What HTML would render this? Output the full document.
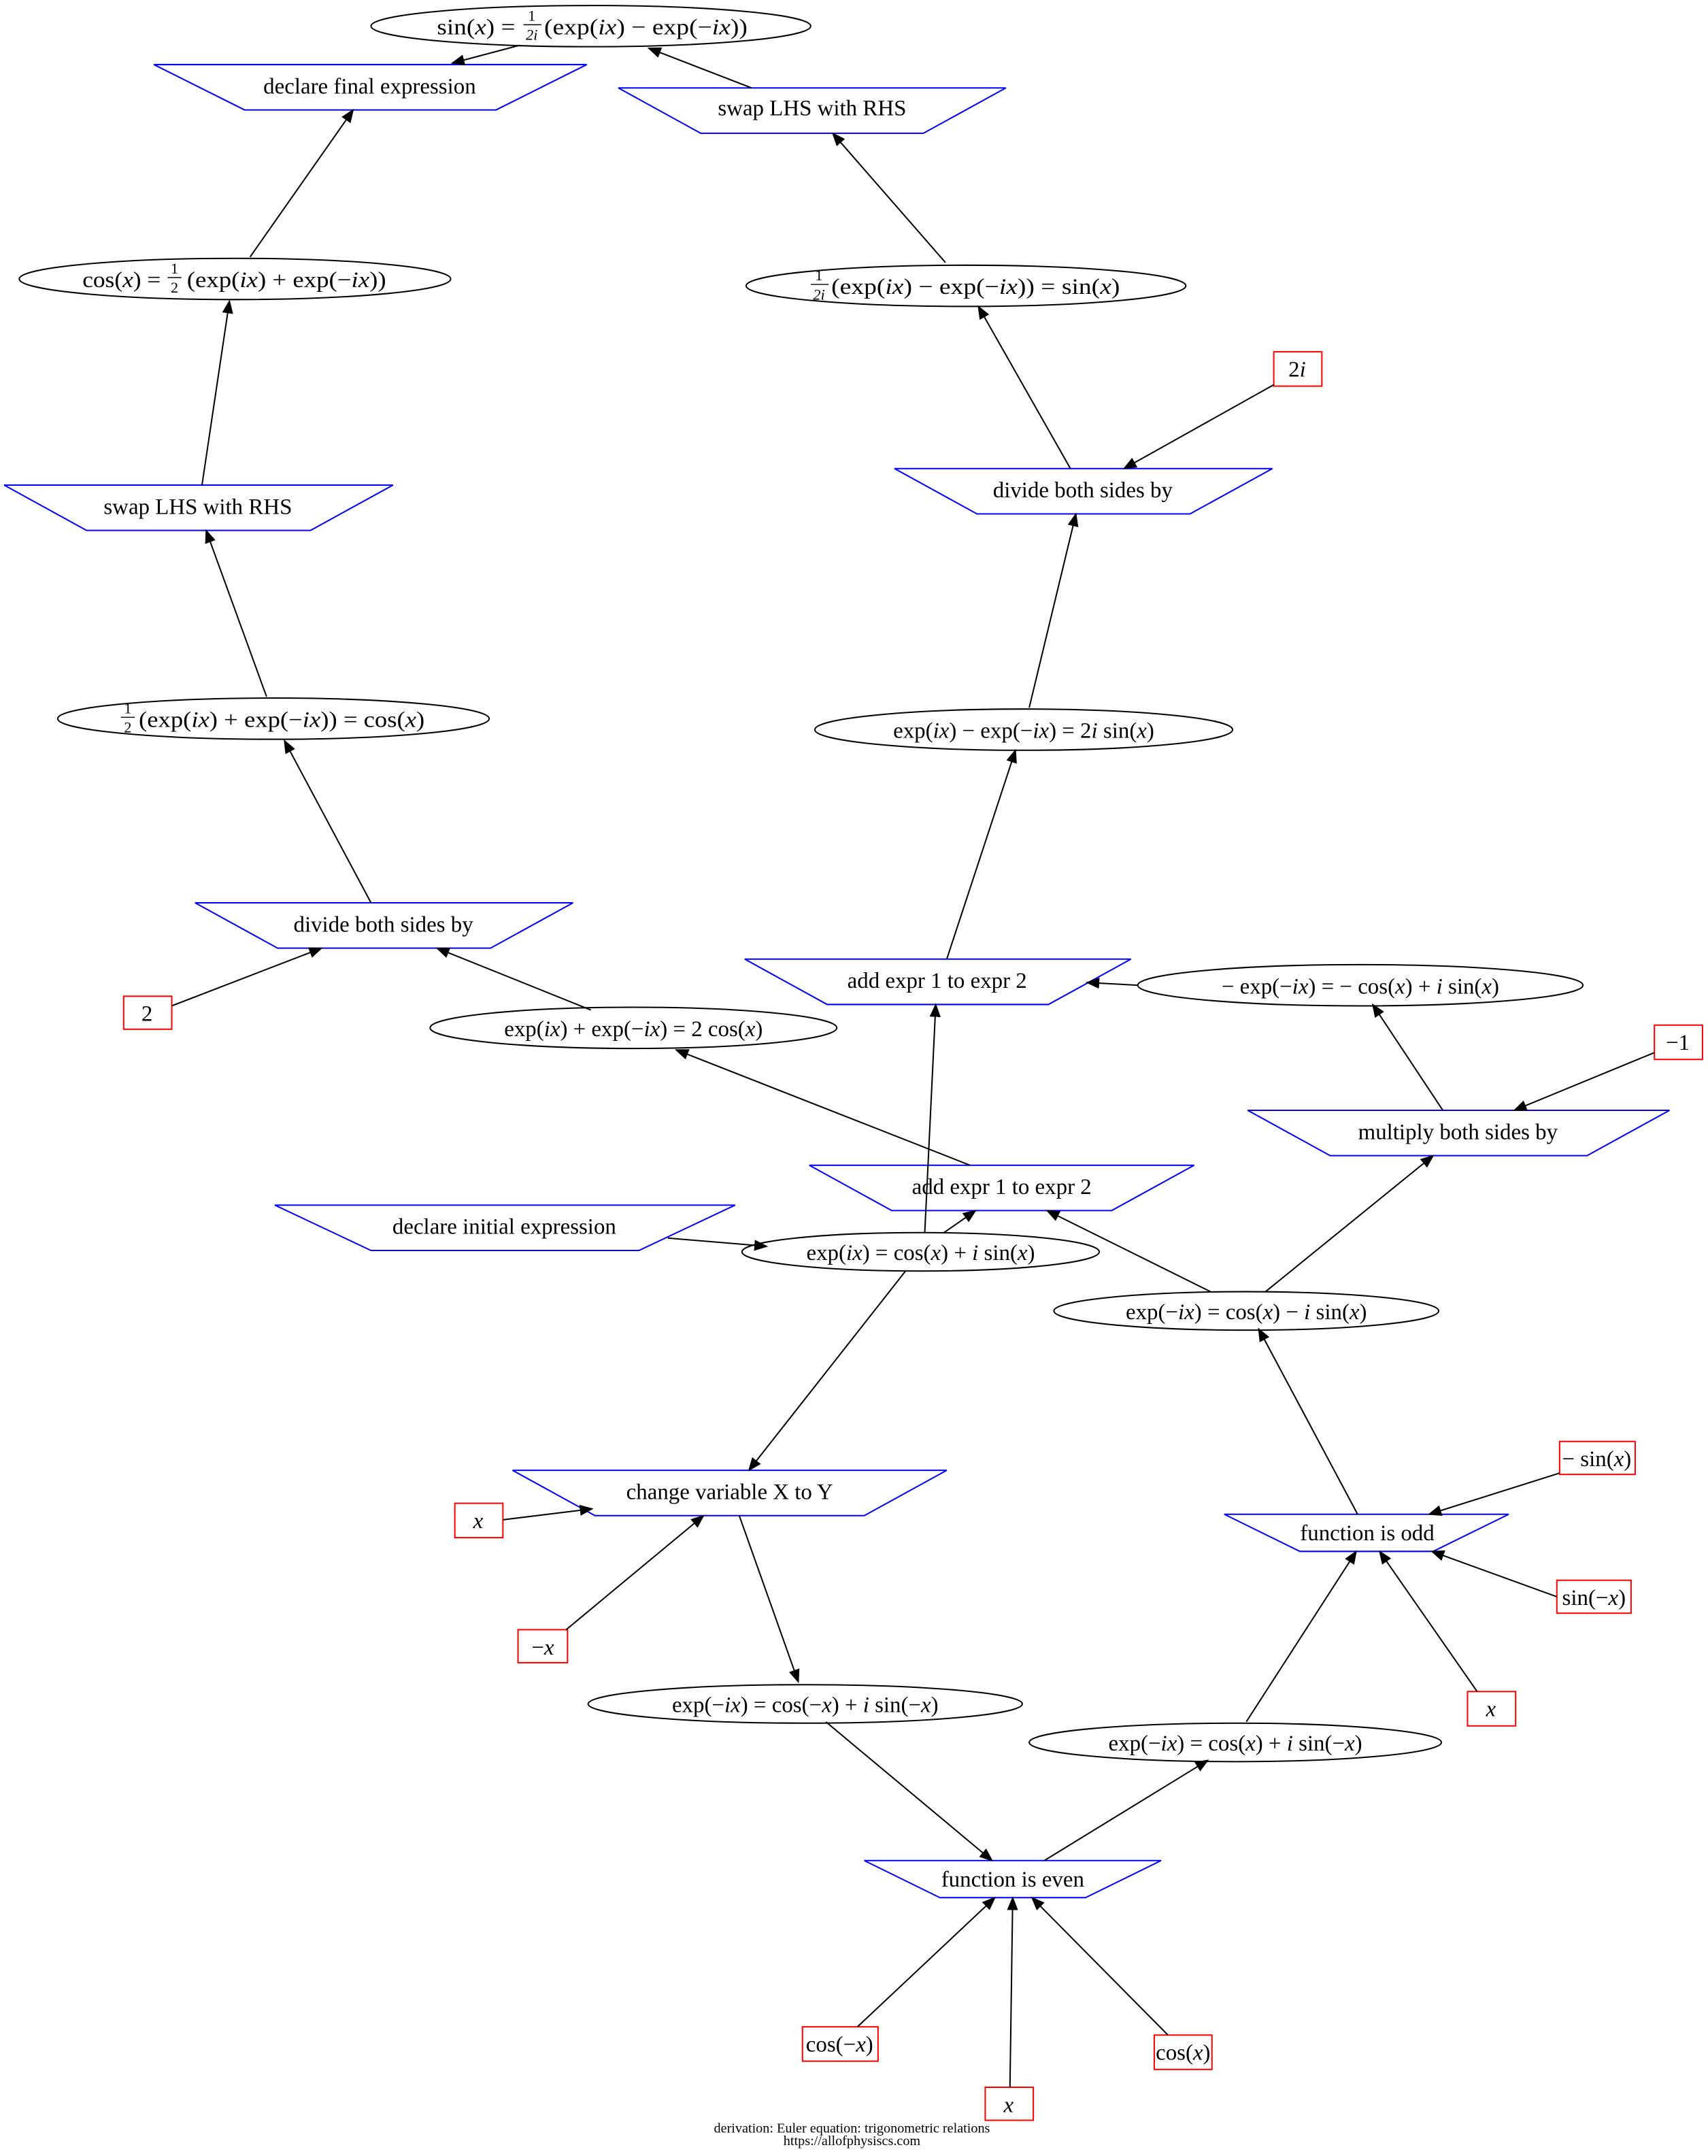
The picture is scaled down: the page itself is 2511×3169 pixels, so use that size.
<!DOCTYPE html>
<html><head><meta charset="utf-8"><style>
html,body{margin:0;padding:0;background:#fff;}
svg{display:block;}
text{font-family:"Liberation Serif",serif;font-size:16.3px;fill:#000;}
.i{font-style:italic;}
.f{font-size:11px;}
.foot{font-size:10px;}
</style></head><body>
<svg width="2511" height="3169" viewBox="0 0 1243 1569" preserveAspectRatio="none" xmlns="http://www.w3.org/2000/svg">
<defs><marker id="a" markerWidth="10" markerHeight="8" refX="9" refY="4" orient="auto" markerUnits="userSpaceOnUse"><path d="M0,0 L10,4 L0,8 z" fill="#000"/></marker></defs>
<rect width="1243" height="1569" fill="#fff"/>
<g stroke="#000" stroke-width="1" fill="none">
<ellipse cx="430" cy="19" rx="160" ry="15"/>
<ellipse cx="171" cy="203" rx="157" ry="15"/>
<ellipse cx="703" cy="208" rx="160" ry="15"/>
<ellipse cx="199" cy="523" rx="157" ry="15"/>
<ellipse cx="745" cy="531" rx="152" ry="15"/>
<ellipse cx="461" cy="748" rx="148" ry="15"/>
<ellipse cx="990" cy="717" rx="162" ry="15"/>
<ellipse cx="670" cy="911" rx="130" ry="14"/>
<ellipse cx="907" cy="954" rx="140" ry="14"/>
<ellipse cx="586" cy="1240" rx="158" ry="14"/>
<ellipse cx="899" cy="1268" rx="150" ry="14"/>
</g>
<g stroke="#0000ff" stroke-width="1" fill="none">
<polygon points="112,47 427,47 361,80 178,80"/>
<polygon points="450,64 732,64 672,97 510,97"/>
<polygon points="3,353 286,353 226,386 63,386"/>
<polygon points="651,341 926,341 866,374 711,374"/>
<polygon points="142,657 417,657 357,690 202,690"/>
<polygon points="542,698 823,698 763,731 602,731"/>
<polygon points="908,808 1215,808 1155,841 968,841"/>
<polygon points="589,848 869,848 809,881 649,881"/>
<polygon points="200,877 535,877 465,910 270,910"/>
<polygon points="373,1070 689,1070 629,1103 433,1103"/>
<polygon points="891,1102 1098,1102 1043,1129 946,1129"/>
<polygon points="629,1354 845,1354 790,1381 684,1381"/>
</g>
<g stroke="#ff0000" stroke-width="1" fill="none">
<rect x="927" y="256" width="35" height="25"/>
<rect x="90" y="725" width="35" height="24"/>
<rect x="1204" y="746" width="35" height="25"/>
<rect x="331" y="1094" width="35" height="25"/>
<rect x="377" y="1186" width="36" height="24"/>
<rect x="1135" y="1049" width="55" height="24"/>
<rect x="1133" y="1150" width="54" height="24"/>
<rect x="1068" y="1231" width="35" height="25"/>
<rect x="584" y="1475" width="55" height="25"/>
<rect x="840" y="1481" width="42" height="25"/>
<rect x="717" y="1519" width="35" height="24"/>
</g>
<g stroke="#000" stroke-width="1" marker-end="url(#a)">
<line x1="378" y1="33" x2="329" y2="46"/>
<line x1="547" y1="64" x2="472" y2="35"/>
<line x1="182" y1="187" x2="257" y2="80"/>
<line x1="688" y1="191" x2="606" y2="97"/>
<line x1="147" y1="353" x2="167" y2="219"/>
<line x1="194" y1="507" x2="150" y2="386"/>
<line x1="779" y1="341" x2="712" y2="223"/>
<line x1="927" y1="280" x2="818" y2="341"/>
<line x1="749" y1="515" x2="783" y2="374"/>
<line x1="270" y1="657" x2="207" y2="539"/>
<line x1="125" y1="732" x2="234" y2="690"/>
<line x1="430" y1="735" x2="318" y2="690"/>
<line x1="689" y1="698" x2="739" y2="546"/>
<line x1="828" y1="717" x2="791" y2="715"/>
<line x1="673" y1="897" x2="681" y2="731"/>
<line x1="1050" y1="808" x2="999" y2="731"/>
<line x1="1204" y1="766" x2="1102" y2="808"/>
<line x1="706" y1="848" x2="492" y2="764"/>
<line x1="687" y1="897" x2="710" y2="881"/>
<line x1="881" y1="940" x2="762" y2="881"/>
<line x1="921" y1="940" x2="1043" y2="841"/>
<line x1="486" y1="901" x2="558" y2="907"/>
<line x1="659" y1="925" x2="545" y2="1070"/>
<line x1="366" y1="1106" x2="431" y2="1098"/>
<line x1="412" y1="1186" x2="512" y2="1103"/>
<line x1="538" y1="1103" x2="581" y2="1224"/>
<line x1="988" y1="1102" x2="916" y2="967"/>
<line x1="1135" y1="1072" x2="1040" y2="1102"/>
<line x1="1133" y1="1162" x2="1042" y2="1129"/>
<line x1="1075" y1="1231" x2="1004" y2="1129"/>
<line x1="601" y1="1253" x2="722" y2="1354"/>
<line x1="760" y1="1354" x2="879" y2="1281"/>
<line x1="907" y1="1253" x2="987" y2="1129"/>
<line x1="624" y1="1475" x2="724" y2="1381"/>
<line x1="735" y1="1519" x2="737" y2="1381"/>
<line x1="850" y1="1481" x2="751" y2="1381"/>
</g>
<text x="318" y="25" textLength="57" lengthAdjust="spacingAndGlyphs">sin(<tspan class="i">x</tspan>) =</text>
<text x="387" y="15" class="f" text-anchor="middle">1</text><line x1="381" y1="18" x2="394" y2="18" stroke="#000" stroke-width="0.7"/><text x="387" y="29" class="f i" text-anchor="middle">2i</text>
<text x="396" y="25" textLength="148" lengthAdjust="spacingAndGlyphs">(exp(<tspan class="i">ix</tspan>) − exp(−<tspan class="i">ix</tspan>))</text>

<text x="60" y="209" textLength="57" lengthAdjust="spacingAndGlyphs">cos(<tspan class="i">x</tspan>) =</text>
<text x="127" y="199" class="f" text-anchor="middle">1</text><line x1="122" y1="202" x2="132" y2="202" stroke="#000" stroke-width="0.7"/><text x="127" y="213" class="f" text-anchor="middle">2</text>
<text x="136" y="209" textLength="145" lengthAdjust="spacingAndGlyphs">(exp(<tspan class="i">ix</tspan>) + exp(−<tspan class="i">ix</tspan>))</text>

<text x="596" y="204" class="f" text-anchor="middle">1</text><line x1="590" y1="207" x2="603" y2="207" stroke="#000" stroke-width="0.7"/><text x="596" y="218" class="f i" text-anchor="middle">2i</text>
<text x="605" y="214" textLength="210" lengthAdjust="spacingAndGlyphs">(exp(<tspan class="i">ix</tspan>) − exp(−<tspan class="i">ix</tspan>)) = sin(<tspan class="i">x</tspan>)</text>

<text x="93" y="519" class="f" text-anchor="middle">1</text><line x1="88" y1="522" x2="98" y2="522" stroke="#000" stroke-width="0.7"/><text x="93" y="533" class="f" text-anchor="middle">2</text>
<text x="101" y="529" textLength="208" lengthAdjust="spacingAndGlyphs">(exp(<tspan class="i">ix</tspan>) + exp(−<tspan class="i">ix</tspan>)) = cos(<tspan class="i">x</tspan>)</text>

<text x="745" y="537" text-anchor="middle">exp(<tspan class="i">ix</tspan>) − exp(−<tspan class="i">ix</tspan>) = 2<tspan class="i">i</tspan> sin(<tspan class="i">x</tspan>)</text>
<text x="461" y="754" text-anchor="middle">exp(<tspan class="i">ix</tspan>) + exp(−<tspan class="i">ix</tspan>) = 2 cos(<tspan class="i">x</tspan>)</text>
<text x="990" y="723" text-anchor="middle">− exp(−<tspan class="i">ix</tspan>) = − cos(<tspan class="i">x</tspan>) + <tspan class="i">i</tspan> sin(<tspan class="i">x</tspan>)</text>
<text x="670" y="917" text-anchor="middle">exp(<tspan class="i">ix</tspan>) = cos(<tspan class="i">x</tspan>) + <tspan class="i">i</tspan> sin(<tspan class="i">x</tspan>)</text>
<text x="907" y="960" text-anchor="middle">exp(−<tspan class="i">ix</tspan>) = cos(<tspan class="i">x</tspan>) − <tspan class="i">i</tspan> sin(<tspan class="i">x</tspan>)</text>
<text x="586" y="1246" text-anchor="middle">exp(−<tspan class="i">ix</tspan>) = cos(−<tspan class="i">x</tspan>) + <tspan class="i">i</tspan> sin(−<tspan class="i">x</tspan>)</text>
<text x="899" y="1274" text-anchor="middle">exp(−<tspan class="i">ix</tspan>) = cos(<tspan class="i">x</tspan>) + <tspan class="i">i</tspan> sin(−<tspan class="i">x</tspan>)</text>
<g text-anchor="middle">
<text x="269" y="68">declare final expression</text>
<text x="591" y="84">swap LHS with RHS</text>
<text x="144" y="374">swap LHS with RHS</text>
<text x="788" y="362">divide both sides by</text>
<text x="279" y="678">divide both sides by</text>
<text x="682" y="719">add expr 1 to expr 2</text>
<text x="1061" y="829">multiply both sides by</text>
<text x="729" y="869">add expr 1 to expr 2</text>
<text x="367" y="898">declare initial expression</text>
<text x="531" y="1091">change variable X to Y</text>
<text x="995" y="1121">function is odd</text>
<text x="737" y="1373">function is even</text>
<text x="944" y="274">2<tspan class="i">i</tspan></text>
<text x="107" y="743">2</text>
<text x="1221" y="764">−1</text>
<text x="348" y="1112" class="i">x</text>
<text x="395" y="1204">−<tspan class="i">x</tspan></text>
<text x="1162" y="1067">− sin(<tspan class="i">x</tspan>)</text>
<text x="1160" y="1168">sin(−<tspan class="i">x</tspan>)</text>
<text x="1085" y="1249" class="i">x</text>
<text x="611" y="1493">cos(−<tspan class="i">x</tspan>)</text>
<text x="861" y="1499">cos(<tspan class="i">x</tspan>)</text>
<text x="734" y="1537" class="i">x</text>
<text x="620" y="1552" class="foot">derivation: Euler equation: trigonometric relations</text>
<text x="620" y="1561" class="foot">https://allofphysiscs.com</text>
</g>
</svg>
</body></html>
